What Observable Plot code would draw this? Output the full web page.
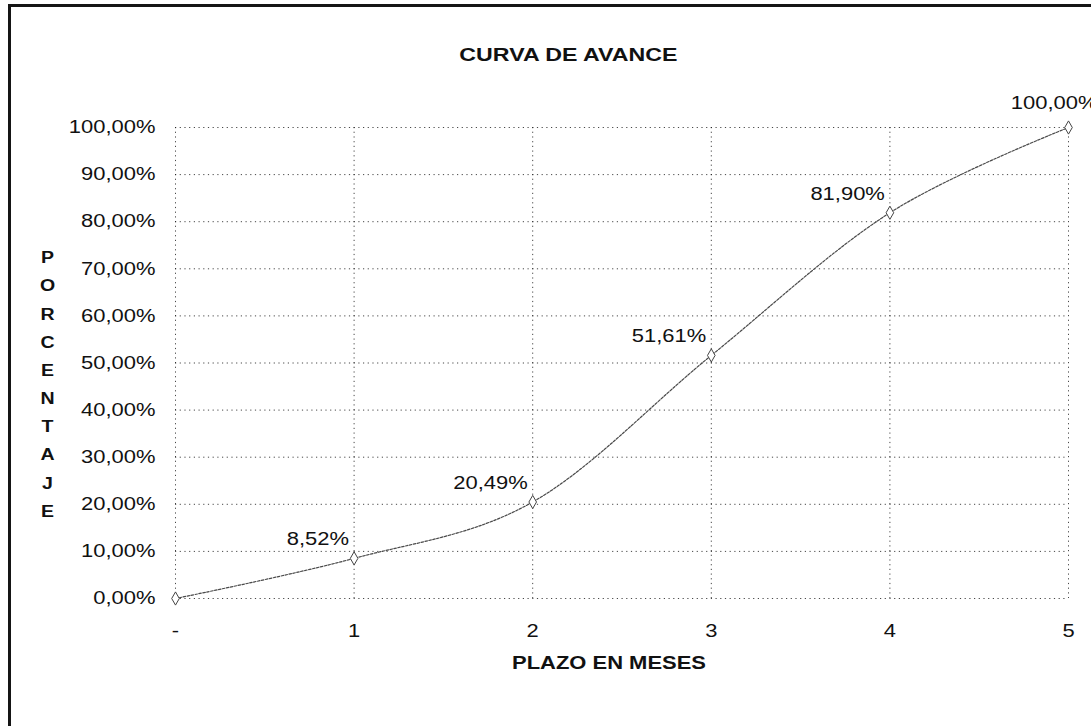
<!DOCTYPE html>
<html>
<head>
<meta charset="utf-8">
<script src="https://cdn.jsdelivr.net/npm/d3@7"></script>
<script src="https://cdn.jsdelivr.net/npm/@observablehq/plot@0.6"></script>
<style>
  html, body { margin: 0; padding: 0; background: #fff; overflow: hidden; width: 1091px; height: 726px; }
  #frame { position: absolute; left: 8px; top: 4px; width: 1200px; height: 900px;
           border-left: 3px solid #151515; border-top: 3px solid #151515; }
  #title { position: absolute; left: 0; top: 45px; width: 1136px; text-align: center;
           font-family: "Liberation Sans", Arial, sans-serif; font-weight: bold; font-size: 19px;
           line-height: 19px; color: #111; }
  #title span { display: inline-block; transform: scaleX(1.22); }
  #chart { position: absolute; left: 0; top: 80px; }
</style>
</head>
<body>
<div id="frame"></div>
<div id="title"><span>CURVA DE AVANCE</span></div>
<div id="chart"></div>
<script>
// ---- data ----
const months = [0, 1, 2, 3, 4, 5];
const monthLabels = ["-", "1", "2", "3", "4", "5"];
const progress = [0, 8.52, 20.49, 51.61, 81.90, 100];
const pointLabels = ["0,00%", "8,52%", "20,49%", "51,61%", "81,90%", "100,00%"];
const yTicks = [0, 10, 20, 30, 40, 50, 60, 70, 80, 90, 100];
const yTickLabels = ["0,00%", "10,00%", "20,00%", "30,00%", "40,00%", "50,00%",
                     "60,00%", "70,00%", "80,00%", "90,00%", "100,00%"];
const xTitle = "PLAZO EN MESES";
const yTitle = "PORCENTAJE";

const data = months.map((m, i) => ({ m, p: progress[i], label: pointLabels[i], i }));

const gridStyle = { stroke: "#1a1a1a", strokeWidth: 1, strokeDasharray: "1.2,3.5", strokeOpacity: 0.8 };

const chart = Plot.plot({
  width: 1091,
  height: 646,
  marginTop: 47,
  marginBottom: 128,
  marginLeft: 175,
  marginRight: 23,
  style: { fontFamily: "'Liberation Sans', Arial, sans-serif", fontSize: "18px", color: "#111",
           background: "transparent", overflow: "visible" },
  x: { domain: [0, 5], ticks: months, tickFormat: d => monthLabels[months.indexOf(d)],
       tickSize: 0, tickPadding: 26, label: null },
  y: { domain: [0, 100], ticks: yTicks, tickFormat: d => yTickLabels[yTicks.indexOf(d)],
       tickSize: 0, tickPadding: 20, label: null },
  marks: [
    Plot.ruleY(yTicks, gridStyle),
    Plot.ruleX(months, gridStyle),
    Plot.line(data, { x: "m", y: "p", curve: "cardinal", stroke: "#4a4a4a", strokeWidth: 1.2,
                      strokeDasharray: "2.5,1.5" }),
    Plot.dot(data, { x: "m", y: "p", symbol: "diamond", r: 4, stroke: "#444", strokeWidth: 1, fill: "white" }),
    Plot.text(data.filter(d => d.i > 0 && d.i < 5), { x: "m", y: "p", text: "label", textAnchor: "end",
                      dx: -5, dy: -19, fill: "#111", fontSize: 18 }),
    Plot.text(data.filter(d => d.i === 5), { x: "m", y: "p", text: "label", textAnchor: "end",
                      dx: 29, dy: -24, fill: "#111", fontSize: 18 }),
    Plot.text([xTitle], { text: d => d, frameAnchor: "bottom", dx: -13, dy: 70,
                      fontWeight: "bold", fontSize: 18, fill: "#111" }),
    Plot.text([yTitle.split("").join("\n")], { text: d => d, frameAnchor: "left", textAnchor: "middle",
                      lineAnchor: "middle", lineHeight: 1.76, dx: -128, dy: 18,
                      fontWeight: "bold", fontSize: 16, fill: "#111" })
  ]
});

document.getElementById("chart").appendChild(chart);

// horizontally stretch every text like the scanned original
chart.querySelectorAll("text").forEach(t => {
  const tspans = t.querySelectorAll("tspan");
  const targets = tspans.length ? Array.from(tspans) : [t];
  targets.forEach(el => {
    const L = el.getComputedTextLength();
    if (L > 0) {
      el.setAttribute("textLength", (L * 1.22).toFixed(1));
      el.setAttribute("lengthAdjust", "spacingAndGlyphs");
    }
  });
});
</script>
</body>
</html>
